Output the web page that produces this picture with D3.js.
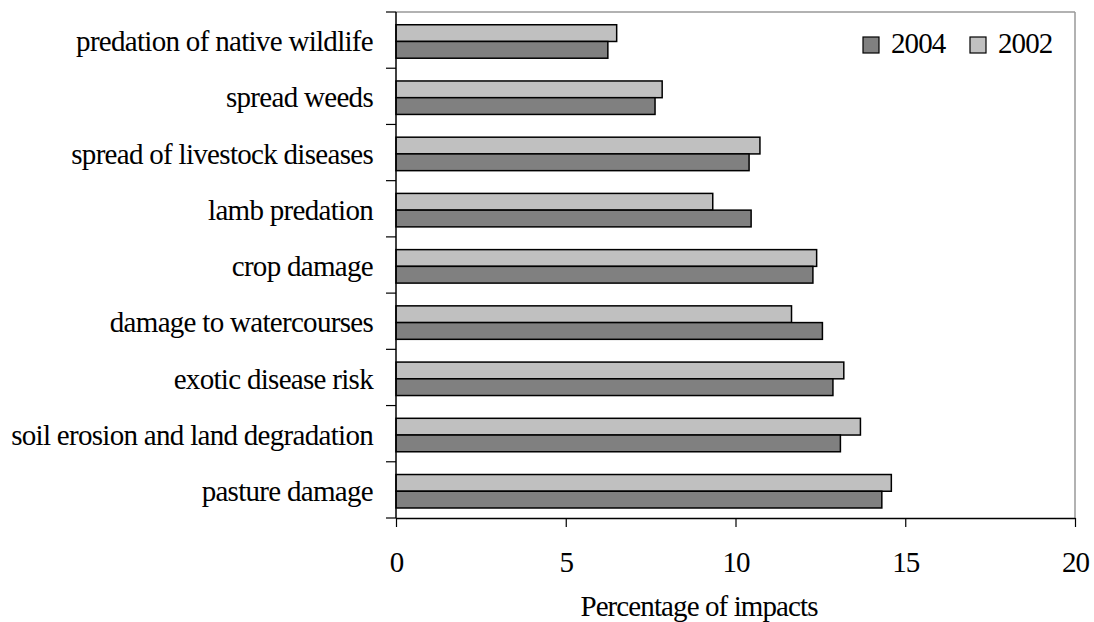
<!DOCTYPE html>
<html>
<head>
<meta charset="utf-8">
<script src="https://cdn.jsdelivr.net/npm/d3@7"></script>
<style>
  body { margin: 0; background: #fff; }
  text { font-family: "Liberation Serif", "Times New Roman", serif; fill: #000; letter-spacing: -0.9px; }
  text.ylabel { letter-spacing: -0.7px; }
</style>
</head>
<body>
<div id="chart"></div>
<script>
// categories top to bottom
const categories = [
    "predation of native wildlife",
    "spread weeds",
    "spread of livestock diseases",
    "lamb predation",
    "crop damage",
    "damage to watercourses",
    "exotic disease risk",
    "soil erosion and land degradation",
    "pasture damage"
];
const values2002 = [6.5, 7.84, 10.72, 9.33, 12.39, 11.65, 13.19, 13.68, 14.59];
const values2004 = [6.24, 7.63, 10.4, 10.46, 12.28, 12.56, 12.87, 13.09, 14.31];
const seriesNames = ["2002", "2004"];
const legendOrder = ["2004", "2002"];
const xTicks = [0, 5, 10, 15, 20];

const colors = { "2002": "#c0c0c0", "2004": "#808080" };
const fontSize = "29px";

const totalWidth = 1094, totalHeight = 622;
const margin = { top: 12, right: 19, bottom: 104, left: 396 };
const width = totalWidth - margin.left - margin.right;
const height = totalHeight - margin.top - margin.bottom;

const svg = d3.select("#chart").append("svg")
    .attr("width", totalWidth)
    .attr("height", totalHeight);

const g = svg.append("g")
    .attr("transform", `translate(${margin.left},${margin.top})`);

const x = d3.scaleLinear().domain([0, 20]).range([0, width]);
const y = d3.scaleBand().domain(categories).range([0, height]).padding(0);
const ySub = d3.scaleBand().domain(seriesNames)
    .range([0, y.bandwidth()])
    .paddingInner(0)
    .paddingOuter(0.68)
    .align(0.56);

// plot frame (grey top and right)
g.append("line")
    .attr("x1", 0).attr("x2", width).attr("y1", 0).attr("y2", 0)
    .attr("stroke", "#999").attr("stroke-width", 1.5);
g.append("line")
    .attr("x1", width).attr("x2", width).attr("y1", 0).attr("y2", height)
    .attr("stroke", "#999").attr("stroke-width", 1.5);

// bars
const data = [];
categories.forEach((c, i) => {
    data.push({ cat: c, series: "2002", value: values2002[i] });
    data.push({ cat: c, series: "2004", value: values2004[i] });
});

g.selectAll("rect.bar")
    .data(data)
    .enter().append("rect")
    .attr("class", "bar")
    .attr("x", x(0))
    .attr("y", d => y(d.cat) + ySub(d.series))
    .attr("width", d => x(d.value) - x(0))
    .attr("height", ySub.bandwidth())
    .attr("fill", d => colors[d.series])
    .attr("stroke", "#000")
    .attr("stroke-width", 1.5);

// x axis
const xAxis = g.append("g")
    .attr("transform", `translate(0,${height})`)
    .call(d3.axisBottom(x).tickValues(xTicks).tickSize(9).tickPadding(24).tickSizeOuter(0));
xAxis.select(".domain").attr("stroke", "#000").attr("stroke-width", 1.5);
xAxis.selectAll(".tick line").attr("stroke", "#000").attr("stroke-width", 1.2);
xAxis.selectAll(".tick text")
    .style("font-size", fontSize)
    .style("font-family", "'Liberation Serif', serif");

// y axis: ticks at category boundaries
const yAxisG = g.append("g");
yAxisG.append("line")
    .attr("x1", 0).attr("x2", 0).attr("y1", 0).attr("y2", height)
    .attr("stroke", "#000").attr("stroke-width", 1.5);
const boundaries = categories.map(c => y(c)).concat([height]);
yAxisG.selectAll("line.ytick")
    .data(boundaries)
    .enter().append("line")
    .attr("class", "ytick")
    .attr("x1", -10).attr("x2", 0)
    .attr("y1", d => d).attr("y2", d => d)
    .attr("stroke", "#000").attr("stroke-width", 1.2);

yAxisG.selectAll("text.ylabel")
    .data(categories)
    .enter().append("text")
    .attr("class", "ylabel")
    .attr("x", -23)
    .attr("y", d => y(d) + y.bandwidth() / 2 + 1)
    .attr("dy", "0.35em")
    .attr("text-anchor", "end")
    .style("font-size", fontSize)
    .text(d => d);

// axis title
svg.append("text")
    .attr("x", 699)
    .attr("y", 616)
    .attr("text-anchor", "middle")
    .style("font-size", fontSize)
    .text("Percentage of impacts");

// legend
const legend = svg.append("g").attr("transform", "translate(863,37)");
const legendItems = legend.selectAll("g")
    .data(legendOrder)
    .enter().append("g")
    .attr("transform", (d, i) => `translate(${i * 107},0)`);
legendItems.append("rect")
    .attr("width", 16).attr("height", 16)
    .attr("fill", d => colors[d])
    .attr("stroke", "#000").attr("stroke-width", 1.2);
legendItems.append("text")
    .attr("x", 28)
    .attr("y", 16)
    .style("font-size", fontSize)
    .text(d => d);
</script>
</body>
</html>
